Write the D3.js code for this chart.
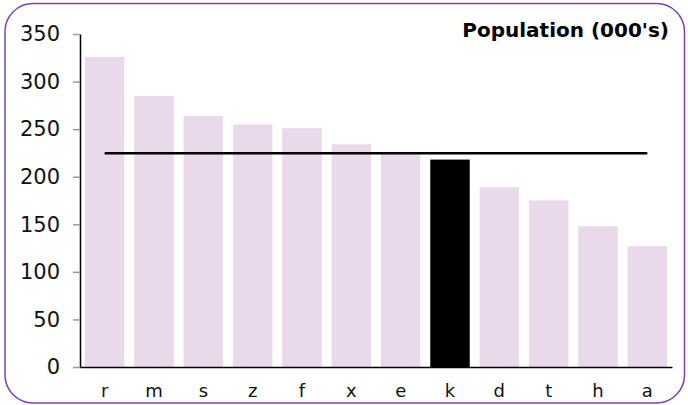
<!DOCTYPE html>
<html>
<head>
<meta charset="utf-8">
<script src="https://cdn.jsdelivr.net/npm/d3@7"></script>
<style>
  body { margin: 0; background: #fff; }
  svg { display: block; font-family: "DejaVu Sans", Verdana, sans-serif; }
</style>
</head>
<body>
<svg></svg>
<script>
// data
const categories = ["r", "m", "s", "z", "f", "x", "e", "k", "d", "t", "h", "a"];
const population = [326, 285, 264, 255, 251, 234, 225, 218, 189, 175, 148, 127];
const highlight = "k";
const yTicks = [0, 50, 100, 150, 200, 250, 300, 350];

const svgWidth = 688;
const svgHeight = 405;
const margin = {top: 34, left: 80, right: 16, bottom: 38};

const svg = d3.select("svg")
  .attr("width", svgWidth)
  .attr("height", svgHeight);

// rounded frame
svg.append("rect")
  .attr("x", 5).attr("y", 3.5)
  .attr("width", 679.5).attr("height", 399.5)
  .attr("rx", 28).attr("ry", 28)
  .attr("fill", "none")
  .attr("stroke", "#7b42b9")
  .attr("stroke-width", 1.5);

const x = d3.scaleBand()
  .domain(categories)
  .range([margin.left, svgWidth - margin.right])
  .paddingInner(0.2)
  .paddingOuter(0.1);

const y = d3.scaleLinear()
  .domain([0, 350])
  .range([svgHeight - margin.bottom, margin.top]);

// bars
svg.append("g")
  .selectAll("rect")
  .data(categories)
  .join("rect")
  .attr("x", d => x(d))
  .attr("y", (d, i) => y(population[i]))
  .attr("width", x.bandwidth())
  .attr("height", (d, i) => y(0) - y(population[i]))
  .attr("fill", d => d === highlight ? "#000" : "#ead9eb");

// y axis
const yAxis = svg.append("g")
  .attr("transform", `translate(${margin.left},0)`)
  .call(d3.axisLeft(y).tickValues(yTicks).tickSize(7).tickPadding(13).tickSizeOuter(0));
yAxis.select(".domain").attr("stroke", "#000").attr("stroke-width", 1.5);
yAxis.selectAll(".tick line").attr("stroke", "#999").attr("stroke-width", 1.5);
yAxis.selectAll(".tick text")
  .attr("font-size", 21)
  .attr("font-family", "DejaVu Sans, sans-serif")
  .attr("fill", "#111");

// x axis
const xAxis = svg.append("g")
  .attr("transform", `translate(0,${y(0)})`)
  .call(d3.axisBottom(x).tickSize(0).tickPadding(17).tickSizeOuter(0));
xAxis.select(".domain").attr("stroke", "#000").attr("stroke-width", 1.5);
xAxis.selectAll(".tick text")
  .attr("font-size", 18)
  .attr("font-family", "DejaVu Sans, sans-serif")
  .attr("fill", "#111");

// average line, first bar centre to last bar centre
const avg = d3.mean(population);
svg.append("line")
  .attr("x1", x(categories[0]) + x.bandwidth() / 2)
  .attr("x2", x(categories[categories.length - 1]) + x.bandwidth() / 2)
  .attr("y1", y(avg)).attr("y2", y(avg))
  .attr("stroke", "#000")
  .attr("stroke-width", 2.5);

// title
svg.append("text")
  .attr("x", 669)
  .attr("y", 37)
  .attr("text-anchor", "end")
  .attr("font-size", 20)
  .attr("font-weight", "bold")
  .attr("fill", "#000")
  .text("Population (000's)");
</script>
</body>
</html>
